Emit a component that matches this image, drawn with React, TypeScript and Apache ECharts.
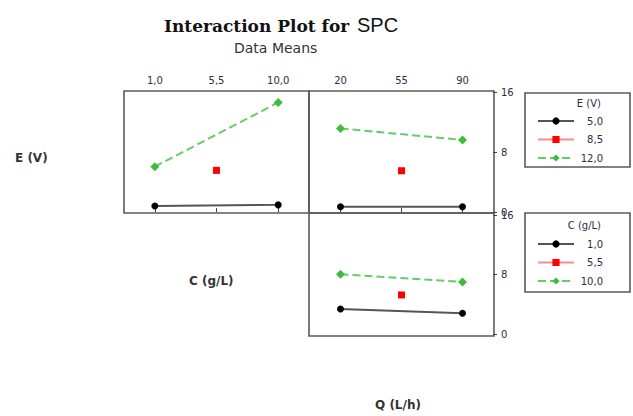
import React, { useEffect, useRef } from "react";
import * as echarts from "echarts";

// ---- data ----
const cLevels = ["1,0", "5,5", "10,0"];
const qLevels = ["20", "55", "90"];
const eNames = ["5,0", "8,5", "12,0"];
const cNames = ["1,0", "5,5", "10,0"];
const yTicks = [0, 8, 16];

// E (V) lines vs C (g/L)  (top-left panel)
const eByC_5 = [0.8, null, 0.95];
const eByC_85 = [null, 5.55, null];
const eByC_12 = [6.05, null, 14.6];
// E (V) lines vs Q (L/h)  (top-right panel)
const eByQ_5 = [0.7, null, 0.7];
const eByQ_85 = [null, 5.5, null];
const eByQ_12 = [11.15, null, 9.6];
// C (g/L) lines vs Q (L/h)  (bottom panel)
const cByQ_1 = [3.35, null, 2.8];
const cByQ_55 = [null, 5.25, null];
const cByQ_10 = [8.05, null, 7.0];

const STYLES = [
  { symbol: "circle", symbolSize: 7, color: "#000000", line: "#555555", type: "solid" },
  { symbol: "rect", symbolSize: 7, color: "#ff0000", line: "#ff8a8a", type: "solid" },
  { symbol: "diamond", symbolSize: 9, color: "#3dbb3d", line: "#66cc66", type: "dashed" },
];

const FONT = "DejaVu Sans";
const TICK_COLOR = "#2c2c44";

function mkSeries(name: string, data: (number | null)[], idx: number, grid: number) {
  const s = STYLES[idx];
  return {
    type: "line",
    name,
    data,
    xAxisIndex: grid,
    yAxisIndex: grid,
    connectNulls: true,
    symbol: s.symbol,
    symbolSize: s.symbolSize,
    itemStyle: { color: s.color },
    lineStyle: { color: s.line, width: 2, type: s.type },
    emphasis: { disabled: true },
    silent: true,
  };
}

export default function App() {
  const ref = useRef<HTMLDivElement>(null);
  useEffect(() => {
    if (!ref.current) return;
    const chart = echarts.init(ref.current, null, { renderer: "svg" });
    const xAxisBase = (cats: string[], grid: number, show: boolean) => ({
      type: "category",
      gridIndex: grid,
      data: cats,
      position: "top",
      boundaryGap: true,
      axisLine: { show: false },
      axisTick: {
        show,
        alignWithLabel: true,
        length: 4,
        lineStyle: { color: "#444", width: 1 },
      },
      axisLabel: {
        show,
        fontFamily: FONT,
        fontSize: 10,
        color: TICK_COLOR,
        margin: 7,
        interval: 0,
      },
      splitLine: { show: false },
    });
    const yAxisBase = (grid: number, show: boolean) => ({
      type: "value",
      gridIndex: grid,
      position: "right",
      min: yTicks[0],
      max: yTicks[yTicks.length - 1],
      interval: yTicks[1] - yTicks[0],
      axisLine: { show: false },
      axisTick: { show, length: 4, lineStyle: { color: "#444", width: 1 } },
      axisLabel: {
        show,
        fontFamily: FONT,
        fontSize: 10,
        color: TICK_COLOR,
        margin: 8,
      },
      splitLine: { show: false },
    });
    const frame = (x: number, y: number, w: number, h: number) => ({
      type: "rect",
      shape: { x, y, width: w, height: h },
      style: { fill: "none", stroke: "#5a5a5a", lineWidth: 1.6 },
      silent: true,
    });
    const legendBase = (names: string[], top: number) => ({
      data: names,
      orient: "vertical",
      left: 532,
      top,
      itemWidth: 36,
      itemHeight: 9,
      itemGap: 8.5,
      selectedMode: false,
      formatter: "{v|{name}}",
      textStyle: {
        rich: {
          v: {
            width: 24,
            align: "right",
            fontFamily: FONT,
            fontSize: 10,
            color: TICK_COLOR,
          },
        },
      },
    });

    chart.setOption({
      animation: false,
      backgroundColor: "#ffffff",
      title: [
        {
          text: "Interaction Plot for",
          left: 159,
          top: 12,
          textStyle: {
            fontFamily: "DejaVu Serif",
            fontWeight: "bold",
            fontSize: 17,
            color: "#111",
          },
        },
        {
          text: "SPC",
          left: 352,
          top: 10,
          textStyle: {
            fontFamily: "Liberation Sans",
            fontWeight: "normal",
            fontSize: 20,
            color: "#111",
          },
        },
        {
          text: "Data Means",
          left: 229,
          top: 36,
          textStyle: {
            fontFamily: FONT,
            fontWeight: "normal",
            fontSize: 14,
            color: "#333",
          },
        },
      ],
      grid: [
        { left: 124, top: 92, width: 185, height: 120 },
        { left: 310, top: 92, width: 183, height: 120 },
        { left: 310, top: 215, width: 183, height: 119 },
      ],
      xAxis: [
        xAxisBase(cLevels, 0, true),
        xAxisBase(qLevels, 1, true),
        xAxisBase(qLevels, 2, false),
      ],
      yAxis: [yAxisBase(0, false), yAxisBase(1, true), yAxisBase(2, true)],
      legend: [legendBase(eNames, 111), legendBase(cNames, 234)],
      series: [
        mkSeries(eNames[0], eByC_5, 0, 0),
        mkSeries(eNames[1], eByC_85, 1, 0),
        mkSeries(eNames[2], eByC_12, 2, 0),
        mkSeries(eNames[0], eByQ_5, 0, 1),
        mkSeries(eNames[1], eByQ_85, 1, 1),
        mkSeries(eNames[2], eByQ_12, 2, 1),
        mkSeries(cNames[0], cByQ_1, 0, 2),
        mkSeries(cNames[1], cByQ_55, 1, 2),
        mkSeries(cNames[2], cByQ_10, 2, 2),
      ],
      graphic: [
        frame(124, 91, 185, 122),
        frame(309, 91, 185, 122),
        frame(309, 213, 185, 123),
        frame(525, 93, 105, 74),
        frame(525, 213, 105, 79),
        {
          type: "text",
          x: 601,
          y: 103,
          style: {
            text: "E (V)",
            fontFamily: FONT,
            fontSize: 10,
            fill: TICK_COLOR,
            align: "right",
            verticalAlign: "middle",
          },
        },
        {
          type: "text",
          x: 601,
          y: 225,
          style: {
            text: "C (g/L)",
            fontFamily: FONT,
            fontSize: 10,
            fill: TICK_COLOR,
            align: "right",
            verticalAlign: "middle",
          },
        },
        {
          type: "text",
          x: 15,
          y: 158,
          style: {
            text: "E (V)",
            fontFamily: FONT,
            fontWeight: "bold",
            fontSize: 12,
            fill: "#333",
            align: "left",
            verticalAlign: "middle",
          },
        },
        {
          type: "text",
          x: 189,
          y: 281,
          style: {
            text: "C (g/L)",
            fontFamily: FONT,
            fontWeight: "bold",
            fontSize: 12,
            fill: "#333",
            align: "left",
            verticalAlign: "middle",
          },
        },
        {
          type: "text",
          x: 375,
          y: 405,
          style: {
            text: "Q (L/h)",
            fontFamily: FONT,
            fontWeight: "bold",
            fontSize: 12,
            fill: "#333",
            align: "left",
            verticalAlign: "middle",
          },
        },
      ],
    });
    return () => chart.dispose();
  }, []);
  return (
    <div
      ref={ref}
      style={{ position: "fixed", left: 0, top: 0, width: 633, height: 416 }}
    />
  );
}
